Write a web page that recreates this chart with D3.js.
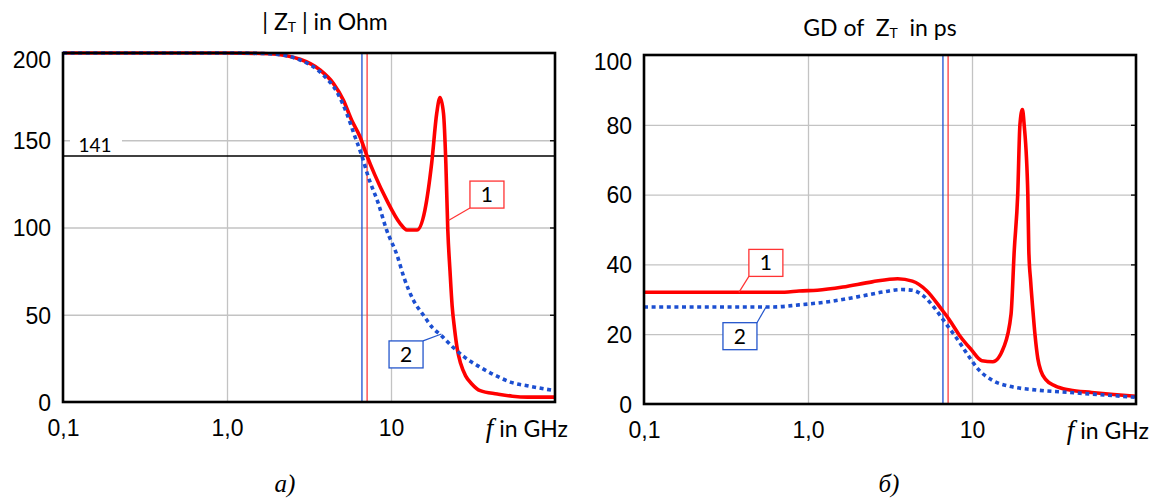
<!DOCTYPE html>
<html lang="en">
<head>
  <meta charset="UTF-8" />
  <title>|ZT| and group delay of ZT</title>
  <script src="https://d3js.org/d3.v7.min.js"></script>
  <style>
    body { margin: 0; background: #fff; }
    svg { display: block; font-family: Lato, 'Open Sans', sans-serif; }
    .grid line { stroke: #c3c3c3; stroke-width: 1.3; }
    .grid path, .axis path, .rtick path { display: none; }
    .rtick line { stroke: #000; stroke-width: 1.3; }
    .axis text { font-size: 23px; fill: #000; }
    .title { font-size: 23px; fill: #000; white-space: pre; }
    .caption { font-family: 'Liberation Serif', serif; font-style: italic; font-size: 25px; }
    .tag text { font-size: 21px; fill: #000; }
  </style>
</head>
<body>
  <div id="chart"></div>

  <script>
    // ---- data ----
    // panel a) |ZT| in Ohm
    const zFreq1 = [0.1, 1.0, 1.8, 2.79, 3.69, 4.45, 5.12, 5.75, 6.47, 7.11, 7.98, 9.4, 11.35, 12.5, 14.4,
                    16.1, 17.7, 19.0, 19.9, 20.9, 21.6, 22.2, 22.9, 23.6, 24.4, 25.4, 26.6, 28.5, 31, 35, 44.5, 55, 68, 100];
    const zMag1  = [200, 200, 199.6, 196.4, 190.3, 182.6, 173, 161.6, 152, 141.5, 130, 115.8, 102.4, 98.6, 98.6,
                    110, 136.8, 165.4, 174.5, 165.4, 136.8, 98.6, 75, 55, 42, 30, 22, 15, 10.5, 6.5, 4.6, 3.3, 2.8, 2.8];
    const zFreq2 = [0.1, 1.0, 1.8, 2.79, 3.86, 4.67, 5.37, 6.03, 6.62, 7.27, 8.36, 9.4, 10.9, 12.0, 13.7,
                    15.7, 17.9, 20.3, 23.8, 27.8, 34.3, 42.3, 54.8, 67.6, 100];
    const zMag2  = [200, 200, 199.6, 196, 187.4, 177.8, 165.4, 152, 141.5, 129, 113.9, 98.6, 84, 71.3, 58.3,
                    50, 42.6, 38, 31.5, 26, 20.4, 15.7, 11.1, 9.3, 6.5];

    // panel б) group delay of ZT in ps
    const gdFreq1 = [0.1, 0.72, 0.88, 1.14, 1.63, 2.46, 3.52, 4.33, 5.31, 6.53, 7.24, 8.44, 9.85, 11.5, 13.4,
                     15.6, 17.3, 18.1, 19.0, 19.6, 20.3, 20.8, 21.9, 22.2, 22.8, 23.5, 24.2, 25.2, 26.3, 28.2,
                     32.1, 39.4, 53.7, 73.1, 100];
    const gd1     = [32, 32, 32.4, 32.6, 33.5, 35, 35.9, 35.2, 32.4, 27.1, 24.3, 19.5, 15.7, 12.4, 12.1,
                     16.2, 25.7, 44, 60, 80, 84.4, 80, 60, 44, 35, 27, 20, 13, 9.5, 7,
                     5.2, 4, 3.3, 2.7, 2.2];
    const gdFreq2 = [0.1, 0.61, 0.88, 1.33, 2.0, 2.87, 3.71, 4.33, 5.05, 5.89, 6.87, 8.02, 9.36, 10.9, 13.4,
                     17.3, 24.8, 39.4, 59.5, 100];
    const gd2     = [27.8, 27.8, 28.4, 29.3, 30.7, 32.1, 32.8, 32.6, 31, 27.6, 23.3, 19, 14.3, 10, 6.7,
                     5, 4, 3.3, 2.7, 1.9];

    // axes
    const xTicks = [0.1, 1, 10];
    const xTickLabels = ["0,1", "1,0", "10"];
    const gridFreqs = [1, 10];
    const zTicks = [0, 50, 100, 150, 200];
    const gdTicks = [0, 20, 40, 60, 80, 100];

    // cut-off frequencies (vertical markers) and the 141 Ohm level
    const cutoff1 = 7.15, cutoff2 = 6.65;
    const level141 = 141;

    // curve tags: text, box corner (f, value), leader tip (f, value)
    const zTagText = ["1", "2"];
    const zTagBox = [[30.3, 126.6], [9.73, 35]];
    const zTagTip = [[22.4, 104], [20.3, 39]];
    const gdTagText = ["1", "2"];
    const gdTagBox = [[0.436, 44.3], [0.303, 23.3]];
    const gdTagTip = [[0.379, 32], [0.555, 27.8]];

    // ---- drawing ----
    const RED = "#ff0000", BLUE = "#1c4fd1";
    const svg = d3.select("#chart").append("svg").attr("width", 1152).attr("height", 500);

    function drawPanel(p) {
      const w = 492, h = 349;
      const g = svg.append("g").attr("transform", `translate(${p.left},${p.top})`);
      const x = d3.scaleLog().domain([0.1, 100]).range([0, w]);
      const y = d3.scaleLinear().domain([0, p.ticks[p.ticks.length - 1]]).range([h, 0]);
      const inner = p.ticks.slice(1, -1);

      // grid
      g.append("g").attr("class", "grid")
        .call(d3.axisLeft(y).tickValues(inner).tickSize(-w).tickFormat(""));
      g.append("g").attr("class", "grid").attr("transform", `translate(0,${h})`)
        .call(d3.axisBottom(x).tickValues(gridFreqs).tickSize(-h).tickFormat(""));
      g.append("g").attr("class", "rtick").attr("transform", `translate(${w},0)`)
        .call(d3.axisLeft(y).tickValues(inner).tickSize(5).tickFormat(""));

      // y labels
      const ya = g.append("g").attr("class", "axis")
        .call(d3.axisLeft(y).tickValues(p.ticks).tickSize(0).tickPadding(12));
      ya.selectAll(".tick text").attr("dy", (d, i) => i === p.ticks.length - 1 ? "0.62em" : "0.36em");

      // x labels
      g.append("g").attr("class", "axis").attr("transform", `translate(0,${h})`)
        .call(d3.axisBottom(x).tickValues(xTicks).tickSize(0).tickPadding(18)
          .tickFormat((d, i) => xTickLabels[i]));
      const unit = g.append("text").attr("class", "axis")
        .attr("x", w + 13).attr("y", h + 35).attr("text-anchor", "end")
        .style("font-size", "23px");
      unit.append("tspan").text("f").style("font-family", "'Liberation Serif', serif")
        .style("font-style", "italic").style("font-size", "27px");
      unit.append("tspan").text(" in GHz");

      // level line (panel a only)
      if (p.level) {
        g.append("line").attr("x1", 0).attr("x2", w)
          .attr("y1", y(p.level)).attr("y2", y(p.level))
          .attr("stroke", "#000").attr("stroke-width", 1.4);
        g.append("rect").attr("x", 7).attr("y", y(p.level) - 16).attr("width", 52).attr("height", 15)
          .attr("fill", "#fff");
        g.append("text").attr("x", 32).attr("y", y(p.level) - 4).attr("text-anchor", "middle")
          .style("font-size", "19px").text(p.level);
      }

      // cut-off markers
      [[p.cut2, BLUE], [p.cut1, "#ff3b3b"]].forEach(([f, c]) => {
        g.append("line").attr("x1", x(f)).attr("x2", x(f)).attr("y1", 0).attr("y2", h)
          .attr("stroke", c).attr("stroke-width", 1.3);
      });

      // curves
      const line = d3.line().x(d => x(d[0])).y(d => y(d[1])).curve(d3.curveMonotoneX);
      g.append("path").datum(d3.zip(p.f1, p.v1)).attr("d", line)
        .attr("fill", "none").attr("stroke", RED).attr("stroke-width", 3.6).attr("stroke-linejoin", "round");
      g.append("path").datum(d3.zip(p.f2, p.v2)).attr("d", line)
        .attr("fill", "none").attr("stroke", BLUE).attr("stroke-width", 3.6)
        .attr("stroke-dasharray", "4,3.6");

      // frame
      g.append("rect").attr("width", w).attr("height", h)
        .attr("fill", "none").attr("stroke", "#000").attr("stroke-width", 2.6);

      // tags
      p.tagText.forEach((t, i) => {
        const c = i === 0 ? "#ff3333" : "#2456cc";
        const bx = x(p.tagBox[i][0]), by = y(p.tagBox[i][1]);
        const tx = x(p.tagTip[i][0]), ty = y(p.tagTip[i][1]);
        const bw = 34, bh = 27;
        const sx = tx < bx + bw / 2 ? bx : bx + bw;
        const sy = ty > by + bh / 2 ? by + bh : by;
        const tg = g.append("g").attr("class", "tag");
        tg.append("line").attr("x1", sx).attr("y1", sy).attr("x2", tx).attr("y2", ty)
          .attr("stroke", c).attr("stroke-width", 1.2);
        tg.append("rect").attr("x", bx).attr("y", by).attr("width", bw).attr("height", bh)
          .attr("fill", "#fff").attr("stroke", c).attr("stroke-width", 1.3);
        tg.append("text").attr("x", bx + bw / 2).attr("y", by + bh / 2).attr("dy", "0.36em")
          .attr("text-anchor", "middle").text(t);
      });

      // title
      const title = svg.append("text").attr("class", "title")
        .attr("x", p.titleX).attr("y", p.titleY).attr("text-anchor", "middle");
      title.append("tspan").text(p.titlePre);
      title.append("tspan").text("T").style("font-size", "14px").attr("dy", 2);
      title.append("tspan").text(p.titlePost).attr("dy", -2);

      // caption
      svg.append("text").attr("class", "caption").attr("x", p.capX).attr("y", 492)
        .attr("text-anchor", "middle").text(p.caption);
    }

    drawPanel({
      left: 63, top: 53, ticks: zTicks, f1: zFreq1, v1: zMag1, f2: zFreq2, v2: zMag2,
      cut1: cutoff1, cut2: cutoff2, level: level141,
      tagText: zTagText, tagBox: zTagBox, tagTip: zTagTip,
      titleX: 325, titleY: 30, titlePre: "| Z", titlePost: " | in Ohm",
      capX: 285, caption: "a)"
    });
    drawPanel({
      left: 644, top: 55, ticks: gdTicks, f1: gdFreq1, v1: gd1, f2: gdFreq2, v2: gd2,
      cut1: cutoff1, cut2: cutoff2, level: null,
      tagText: gdTagText, tagBox: gdTagBox, tagTip: gdTagTip,
      titleX: 880, titleY: 36, titlePre: "GD of  Z", titlePost: "  in ps",
      capX: 889, caption: "б)"
    });
  </script>
</body>
</html>
